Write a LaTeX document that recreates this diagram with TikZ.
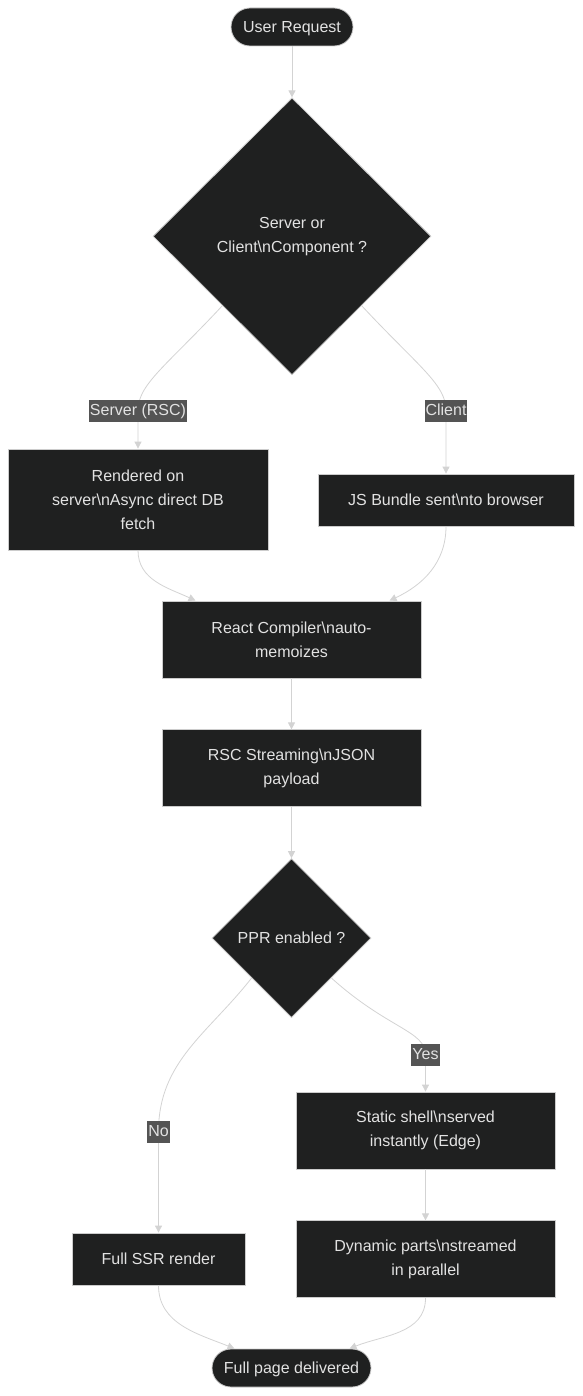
\documentclass[tikz,border=0pt]{standalone}
\usepackage{fontspec}
\setmainfont{Liberation Sans}
\usepackage{xcolor}
\usepackage{tikz}
\usetikzlibrary{positioning,arrows.meta,shapes.geometric}

\definecolor{nodefill}{HTML}{1F2020}
\definecolor{nodeline}{HTML}{CCCCCC}
\definecolor{edgeline}{HTML}{D3D3D3}
\definecolor{lblfill}{HTML}{545454}
\definecolor{nodetext}{HTML}{E2E2E2}

\begin{document}
\begin{tikzpicture}[x=1pt, y=-1pt, node distance=51pt,
			every node/.style={font=\fontsize{16}{24}\selectfont, text=nodetext},
			box/.style={draw=nodeline, fill=nodefill, rectangle, minimum width=259pt, minimum height=77pt, align=center, line width=0.8pt},
			oneline/.style={text height=14.5pt, text depth=3.4pt},
			term/.style={box, oneline, rounded corners=19pt, minimum height=38pt},
			decision/.style={draw=nodeline, fill=nodefill, diamond, inner sep=0pt, align=center, line width=0.8pt},
			lbl/.style={fill=lblfill, inner xsep=1pt, inner ysep=3pt, text height=12.5pt, text depth=3.5pt},
			arrow/.style={draw=edgeline, line width=0.8pt, -{Triangle[length=7pt, width=7pt]}}]
			
			\useasboundingbox (0,0) rectangle (582,1396);
			
			\node[term, minimum width=122pt] at (292,27) (user) {User Request};
			\node[decision, minimum width=278pt, minimum height=277pt, below=of user] (kind) {Server or\\Client\textbackslash nComponent ?};
			\node[box, minimum width=260pt, minimum height=101pt] at (138,499.5) (rendered) {Rendered on\\server\textbackslash nAsync direct DB\\fetch};
			\node[box, oneline, minimum width=256pt, minimum height=52pt] at (446,500) (bundle) {JS Bundle sent\textbackslash nto browser};
			\node[box] at (291.5,639.5) (compiler) {React Compiler\textbackslash nauto-\\memoizes};
			\node[box, below=of compiler] (stream) {RSC Streaming\textbackslash nJSON\\payload};
			\node[decision, oneline, minimum width=159pt, minimum height=159pt, below=of stream] (ppr) {PPR enabled ?};
			\node[box] at (425.5,1130.5) (shell) {Static shell\textbackslash nserved\\instantly (Edge)};
			\node[box, below=of shell] (dynamic) {Dynamic parts\textbackslash nstreamed\\in parallel};
			\node[box, oneline, minimum width=173pt, minimum height=52pt] at (158.5,1259) (ssr) {Full SSR render};
			\node[term, minimum width=159pt] at (291.5,1368) (done) {Full page delivered};
			
			\draw[arrow] (user) -- (kind);
			\draw[arrow] (kind.south west) to[out=-133,in=90,out looseness=1.6,in looseness=0.5] ([yshift=38pt]rendered.north) node[lbl] {Server (RSC)} -- (rendered.north);
			\draw[arrow] (kind.south east) to[out=-47,in=90,out looseness=1.6,in looseness=0.5] ([yshift=63pt]bundle.north) node[lbl] {Client} -- (bundle.north);
			\draw[arrow] (rendered.south) to[out=-90,in=155] ([xshift=-96pt]compiler.north);
			\draw[arrow] (bundle.south) to[out=-90,in=25] ([xshift=98pt]compiler.north);
			\draw[arrow] (compiler) -- (stream);
			\draw[arrow] (stream) -- (ppr);
			\draw[arrow] (ppr.south west) to[out=-128,in=90] ([yshift=101pt]ssr.north) node[lbl] {No} -- (ssr.north);
			\draw[arrow] (ppr.south east) to[out=-42,in=90,out looseness=1.6,in looseness=0.5] ([yshift=37pt]shell.north) node[lbl] {Yes} -- (shell.north);
			\draw[arrow] (shell) -- (dynamic);
			\draw[arrow] (ssr.south) to[out=-90,in=158] ([xshift=-57pt]done.north);
			\draw[arrow] (dynamic.south) to[out=-90,in=22] ([xshift=58pt]done.north);
			
		\end{tikzpicture}
\end{document}
